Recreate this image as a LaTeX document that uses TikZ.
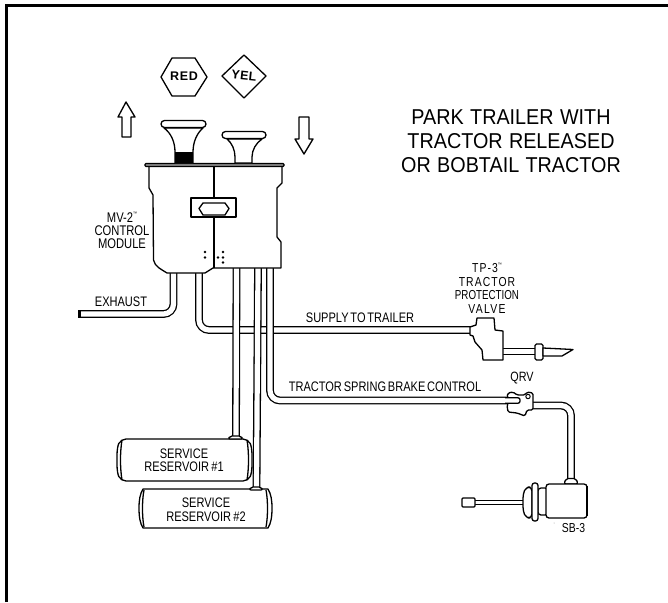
\documentclass[tikz,border=0pt]{standalone}
\usepackage{fontspec}
\setmainfont{Liberation Sans}
\newfontfamily\fa[FakeStretch=0.8,WordSpace=0.6]{Liberation Sans}
\newfontfamily\fb[FakeStretch=0.92,WordSpace=1.15]{Liberation Sans}
\newcommand\tmk{\raisebox{.5em}{\fontsize{5}{5}\selectfont ™}}
\newcommand\sz[2]{\fontsize{#1}{#2}\selectfont}
\begin{document}
\begin{tikzpicture}[x=1pt,y=-1pt,
  part/.style={draw=black,line width=1.3pt,fill=white,line join=round},
  plain/.style={draw=black,line width=1.3pt,line join=round},
  pipe/.style={draw=black,line width=1.3pt,double=white,double distance=5.2pt,rounded corners=10pt},
  lbl/.style={inner sep=0pt,align=center,text=black,font=\fa\sz{13.8}{13.5}},
  hand/.style={inner sep=0pt,font=\bfseries\sz{12.5}{12}}]
\useasboundingbox (0,0) rectangle (668,602);
% frame
\draw[black,line width=2.7pt] (6.3,602) -- (6.3,5.3) -- (668,5.3);

% named pipe ends
\coordinate (bodyExh) at (173.5,272);
\coordinate (exhEnd) at (78,314);
\coordinate (bodySup) at (199,272);
\coordinate (tpIn) at (471,330);
\coordinate (bodyA) at (236.5,268);
\coordinate (resA) at (236,437);
\coordinate (bodyB) at (258,268);
\coordinate (resB) at (256.5,488);
\coordinate (bodyC) at (270,268);
\coordinate (qrvIn) at (520,400.5);
\coordinate (qrvOut) at (533,405.5);
\coordinate (sbIn) at (571,480);
\coordinate (tpOut) at (503,351.5);
\coordinate (collarL) at (535,351.5);
\coordinate (rodL) at (475,502.5);
\coordinate (rodR) at (524,502.5);

% pipes (horizontal runs first, so the verticals cross over them)
\path[pipe] (bodyExh) -- (bodyExh |- exhEnd) -- (exhEnd);
\path[pipe] (bodySup) -- (bodySup |- tpIn) -- (tpIn);
\path[pipe] (bodyC) -- (bodyC |- qrvIn) -- (qrvIn);
\path[pipe] (bodyA) -- (resA);
\path[pipe] (bodyB) -- (resB);
\path[pipe] (qrvOut) -- (sbIn |- qrvOut) -- (sbIn);
\path[pipe] (tpOut) -- (collarL);
\path[pipe,line width=1.1pt,double distance=3.2pt] (rodL) -- (rodR);
\fill[black] (78,310.5) rectangle (80.5,317.5);

% control module
\path[part] (149,166) -- (149,188) -- (153,195) -- (153.5,260) .. controls (155,267) and (161,269) .. (167,273)
  -- (205,273) -- (213,268) -- (281,268) -- (281,242) -- (277,237) -- (277,188) -- (282,183) -- (282,166) -- cycle;
\draw[plain] (214,167) -- (214,198) (214,217) -- (214,268);
\path[part] (191,198) rectangle (236,217);
\path[part] (199,208.5) -- (203,203) -- (225,203) -- (229,208.5) -- (225,215) -- (203,215) -- cycle;
\fill[black] (205,252) circle (1.3) (205,257.5) circle (1.3)
  (223,252) circle (1.3) (218,257.5) circle (1.3) (223,257.5) circle (1.3) (223,262.5) circle (1.3);
\path[draw=black,line width=1.2pt,fill=black!45,rounded corners=1pt] (145,163.5) rectangle (284,166.5);

% knobs
\path[part] (164,128) .. controls (171,133) and (175,142) .. (175,152) -- (175,163) -- (193,163) -- (193,152)
  .. controls (193,142) and (197,133) .. (203,128) -- cycle;
\path[part,rounded corners=3.5pt] (161,120.5) rectangle (206,127.5);
\fill[black] (175,152) rectangle (193,163);
\path[part] (227,139) .. controls (232,143) and (235,150) .. (235,157) -- (235,163) -- (252,163) -- (252,157)
  .. controls (252,150) and (256,143) .. (262,139) -- cycle;
\path[part,rounded corners=3.5pt] (222,131.5) rectangle (266,138.5);

% motion arrows
\path[part] (126,102) -- (135,117) -- (131,117) -- (131,137) -- (122,137) -- (122,117) -- (118,117) -- cycle;
\path[part] (304,154) -- (313,139) -- (309,139) -- (309,117) -- (299,117) -- (299,139) -- (295,139) -- cycle;

% colour tags
\path[plain] (161,77) -- (172,58) -- (195,58) -- (207,77) -- (195,96) -- (172,96) -- cycle;
\node[hand] (redtxt) at (184,76) {\addfontfeature{LetterSpace=6}RED};
\path[plain] (222,76) -- (244,55) -- (266,76) -- (244,98) -- cycle;
\node[hand,rotate=-6] (yeltxt) at (244,76) {\addfontfeature{LetterSpace=3}YEL};

% reservoir 1
\path[part,rounded corners=5pt] (117,460) .. controls (117,450) and (118,445) .. (121,439) -- (248,439)
  .. controls (251,445) and (252,450) .. (252,460) .. controls (252,470) and (251,475) .. (248,481) -- (121,481)
  .. controls (118,475) and (117,470) .. (117,460) -- cycle;
\draw[plain] (122,440) .. controls (120,452) and (120,468) .. (122,480);
\draw[plain] (247,440) .. controls (249,452) and (249,468) .. (247,480);
\path[part,rounded corners=2pt] (228,439) -- (230,436) -- (241,436) -- (243,439) -- cycle;
\node[lbl] (res1) at (184,460) {SERVICE\\RESERVOIR\,\#1};

% reservoir 2
\path[part] (139,508) .. controls (139,500) and (140,494) .. (143,489) -- (268,489)
  .. controls (271,494) and (272,500) .. (272,508) .. controls (272,517) and (271,523) .. (268,528) -- (143,528)
  .. controls (140,523) and (139,517) .. (139,508) -- cycle;
\draw[plain] (144,490) .. controls (142,500) and (142,517) .. (144,527);
\draw[plain] (266,490) .. controls (268,500) and (268,517) .. (266,527);
\path[part,rounded corners=2pt] (249,490) -- (251,487) -- (261,487) -- (263,490) -- cycle;
\node[lbl] (res2) at (206,509.5) {SERVICE\\RESERVOIR\,\#2};

% TP-3 valve
\path[part] (470,327) -- (476,325) -- (477,318) -- (494,318) -- (495,330) -- (503,331) -- (503,360) -- (483,360)
  -- (482,350) -- (475,342) -- (473,336) -- (470,335) -- cycle;
\path[part,rounded corners=1.5pt] (535,344) rectangle (543,360);
\path[part] (543,348) -- (573,349.5) -- (562,356) -- (543,356) -- cycle;

% QRV
\path[part,rounded corners=1.5pt] (508,393) -- (513,392) -- (517,395) -- (525,395) -- (527,392) -- (533,393) -- (533,410)
  -- (527,410) -- (525,416) -- (517,413) -- (508,412) -- (507,405) -- (510,400) -- (507,397) -- cycle;
\path[draw=black,line width=1.3pt,fill=white,rounded corners=2pt] (505,397.8) -- (520,397.8) -- (520,403.2) -- (505,403.2);
\draw[plain,line width=1pt] (528,396.5) circle (2.2);

% SB-3 chamber
\path[part,rounded corners=2pt] (564,484) -- (566,478.5) -- (576,478.5) -- (578,484) -- cycle;
\path[part,rounded corners=3pt] (538,488) rectangle (548,515);
\path[part,rounded corners=3pt] (546,484) rectangle (587,518);
\draw[black,line width=2.2pt] (587,486) -- (587,516);
\path[part,rounded corners=4pt] (532,487) -- (526,487) -- (523,494) -- (523,511) -- (526,518) -- (532,518) -- cycle;
\path[part,rounded corners=2.5pt] (532,483) rectangle (538,521);
\path[part,rounded corners=1pt] (462,498) rectangle (475,507);
\fill[black!40] (554,523) circle (.5);

% labels
\node[inner sep=0pt,align=center,text=black,font=\fb\sz{21.5}{24}] (title) at (511,141)
  {PARK TRAILER WITH\\TRACTOR RELEASED\\OR BOBTAIL TRACTOR};
\node[lbl,font=\fa\sz{14}{13}] (mv) at (122,230) {MV-2\tmk\\CONTROL\\MODULE};
\node[lbl] (exh) at (121,302) {EXHAUST};
\node[lbl] (sup) at (360,318) {SUPPLY TO TRAILER};
\node[lbl] (spr) at (385,387) {TRACTOR SPRING BRAKE CONTROL};
\node[lbl,font=\fa\sz{13}{13.5}] (tp) at (487,288)
  {{\addfontfeature{LetterSpace=8}TP-3}\tmk\\{\addfontfeature{LetterSpace=8}TRACTOR}\\\scalebox{.94}[1]{PROTECTION}\\{\addfontfeature{LetterSpace=10}VALVE}};
\node[lbl,font=\fa\sz{13.5}{13.5}] (qrv) at (522,378) {QRV};
\node[lbl,font=\fa\sz{13}{13}] (sb) at (573.5,528) {SB-3};
\end{tikzpicture}
\end{document}
